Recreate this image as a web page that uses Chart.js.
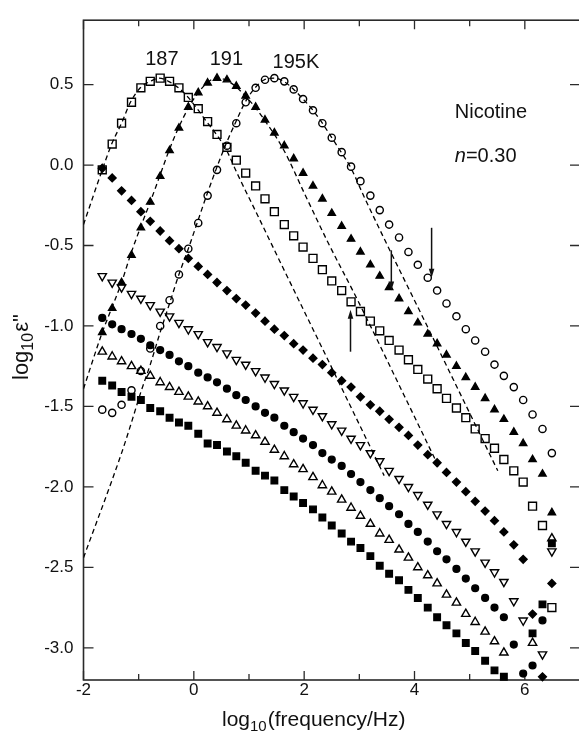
<!DOCTYPE html>
<html lang="en">
<head>
    <meta charset="UTF-8">
    <title>Nicotine dielectric loss</title>
    <script src="https://cdn.jsdelivr.net/npm/chart.js"></script>
    <style>
        html, body {
            margin: 0;
            padding: 0;
            background: #fff;
            overflow: hidden;
        }

        #wrap {
            width: 587px;
            height: 733px;
        }
    </style>
</head>
<body>
    <div id="wrap"><canvas id="lossChart" width="587" height="733"></canvas></div>

    <script>
        // measured frequencies, log10(f/Hz)
        const logFreq = [-1.66, -1.48, -1.31, -1.13, -0.96, -0.79, -0.61, -0.44, -0.27, -0.10,
            0.08, 0.25, 0.42, 0.60, 0.77, 0.94, 1.12, 1.29, 1.46, 1.64,
            1.81, 1.98, 2.16, 2.33, 2.50, 2.68, 2.85, 3.02, 3.20, 3.37,
            3.54, 3.72, 3.89, 4.06, 4.24, 4.41, 4.58, 4.76, 4.93, 5.10,
            5.28, 5.45, 5.62, 5.80, 5.97, 6.14, 6.32, 6.49];

        // log10 eps'' for each temperature (null = not measured / off scale)
        const loss187 = [-0.03, 0.13, 0.26, 0.39, 0.48, 0.52, 0.54, 0.52, 0.48, 0.42,
            0.35, 0.27, 0.19, 0.11, 0.03, -0.05, -0.13, -0.21, -0.29, -0.37,
            -0.44, -0.51, -0.58, -0.65, -0.72, -0.78, -0.85, -0.91, -0.97, -1.03,
            -1.09, -1.15, -1.21, -1.27, -1.33, -1.39, -1.45, -1.51, -1.57, -1.64,
            -1.70, -1.76, -1.83, -1.90, -1.97, -2.12, -2.24, -2.75];
        const loss191 = [-1.04, -0.89, -0.73, -0.56, -0.39, -0.23, -0.07, 0.09, 0.23, 0.36,
            0.45, 0.51, 0.54, 0.53, 0.49, 0.43, 0.36, 0.28, 0.20, 0.12,
            0.04, -0.05, -0.13, -0.21, -0.30, -0.38, -0.46, -0.54, -0.62, -0.69,
            -0.76, -0.83, -0.91, -0.98, -1.05, -1.11, -1.18, -1.25, -1.32, -1.38,
            -1.45, -1.52, -1.58, -1.66, -1.73, -1.83, -1.92, -2.16];
        const loss195 = [-1.52, -1.54, -1.49, -1.40, -1.28, -1.14, -1.00, -0.84, -0.68, -0.52,
            -0.36, -0.19, -0.03, 0.12, 0.26, 0.39, 0.48, 0.53, 0.54, 0.52,
            0.47, 0.41, 0.34, 0.26, 0.17, 0.08, -0.01, -0.10, -0.19, -0.28,
            -0.37, -0.45, -0.54, -0.62, -0.70, -0.78, -0.86, -0.94, -1.02, -1.09,
            -1.16, -1.24, -1.31, -1.38, -1.46, -1.55, -1.64, -1.79];
        const lossDiamond = [-0.02, -0.08, -0.16, -0.22, -0.29, -0.35, -0.41, -0.47, -0.52, -0.58,
            -0.63, -0.68, -0.73, -0.78, -0.83, -0.87, -0.92, -0.97, -1.02, -1.06,
            -1.11, -1.15, -1.20, -1.24, -1.29, -1.34, -1.38, -1.44, -1.49, -1.53,
            -1.58, -1.63, -1.68, -1.74, -1.80, -1.85, -1.91, -1.97, -2.03, -2.09,
            -2.15, -2.21, -2.28, -2.36, -2.45, -2.79, -3.18, -2.60];
        const lossTriDown = [-0.69, -0.73, -0.76, -0.80, -0.83, -0.87, -0.91, -0.94, -0.98, -1.02,
            -1.05, -1.10, -1.13, -1.17, -1.21, -1.24, -1.28, -1.32, -1.36, -1.40,
            -1.44, -1.48, -1.52, -1.56, -1.61, -1.65, -1.70, -1.74, -1.79, -1.84,
            -1.90, -1.95, -2.00, -2.05, -2.11, -2.17, -2.23, -2.28, -2.34, -2.40,
            -2.47, -2.53, -2.59, -2.71, -2.83, null, -3.04, -2.40];
        const lossDot = [-0.95, -0.99, -1.02, -1.05, -1.08, -1.12, -1.15, -1.18, -1.22, -1.25,
            -1.29, -1.32, -1.35, -1.39, -1.43, -1.46, -1.50, -1.54, -1.57, -1.62,
            -1.66, -1.70, -1.74, -1.79, -1.83, -1.87, -1.92, -1.97, -2.02, -2.07,
            -2.12, -2.17, -2.23, -2.28, -2.34, -2.40, -2.45, -2.51, -2.57, -2.63,
            -2.69, -2.75, -2.81, -2.98, -3.16, -3.11, -2.83, null];
        const lossTriUp = [-1.16, -1.19, -1.22, -1.25, -1.28, -1.31, -1.35, -1.38, -1.41, -1.44,
            -1.47, -1.50, -1.54, -1.58, -1.62, -1.65, -1.68, -1.72, -1.77, -1.81,
            -1.86, -1.89, -1.94, -1.99, -2.03, -2.08, -2.13, -2.18, -2.23, -2.29,
            -2.33, -2.39, -2.44, -2.50, -2.55, -2.60, -2.67, -2.72, -2.79, -2.84,
            -2.90, -2.96, -3.03, null, null, -2.97, null, -2.32];
        const lossSquare = [-1.34, -1.37, -1.41, -1.44, -1.46, -1.51, -1.53, -1.57, -1.60, -1.62,
            -1.67, -1.73, -1.74, -1.78, -1.81, -1.85, -1.90, -1.93, -1.96, -2.02,
            -2.06, -2.10, -2.14, -2.19, -2.24, -2.29, -2.34, -2.38, -2.43, -2.49,
            -2.54, -2.58, -2.64, -2.69, -2.75, -2.81, -2.86, -2.91, -2.97, -3.02,
            -3.08, -3.14, -3.18, null, null, -2.91, -2.73, -2.35];

        // fitted relaxation curves (dashed)
        const fit187X = [-2.00, -1.66, -1.49, -1.31, -1.15, -0.97, -0.79, -0.63, -0.46, -0.28,
            -0.10, 0.06, 0.23, 0.41, 0.58, 0.81, 1.11, 1.59, 2.43, 3.45];
        const fit187Y = [-0.37, -0.03, 0.13, 0.26, 0.39, 0.48, 0.52, 0.54, 0.52, 0.48,
            0.42, 0.35, 0.27, 0.19, 0.10, -0.07, -0.28, -0.62, -1.21, -1.93];
        const fit191X = [-2.00, -1.66, -1.49, -1.31, -1.15, -0.97, -0.79, -0.62, -0.45, -0.28,
            -0.09, 0.08, 0.24, 0.40, 0.57, 0.75, 0.93, 1.11, 1.28, 1.62,
            2.01, 2.43, 2.97, 3.81, 4.46];
        const fit191Y = [-1.39, -1.04, -0.89, -0.73, -0.56, -0.39, -0.23, -0.07, 0.09, 0.23,
            0.36, 0.45, 0.51, 0.54, 0.53, 0.49, 0.43, 0.36, 0.28, 0.10,
            -0.18, -0.48, -0.84, -1.43, -1.89];
        const fit195X = [-2.00, -1.31, -1.14, -0.96, -0.79, -0.62, -0.44, -0.27, -0.10, 0.06,
            0.23, 0.40, 0.57, 0.75, 0.93, 1.11, 1.28, 1.46, 1.63, 1.81,
            1.98, 2.16, 2.33, 2.50, 2.67, 2.85, 3.09, 4.40, 5.51];
        const fit195Y = [-2.44, -1.79, -1.61, -1.41, -1.24, -1.05, -0.86, -0.68, -0.52, -0.36,
            -0.19, -0.03, 0.12, 0.26, 0.39, 0.48, 0.53, 0.54, 0.52, 0.47,
            0.41, 0.34, 0.26, 0.17, 0.08, -0.02, -0.20, -1.12, -1.90];

        // arrows marking where the data leave the fits
        const arrowX = [4.31, 3.58, 2.84];
        const arrowFrom = [-0.39, -0.53, -1.16];
        const arrowTo = [-0.70, -0.78, -0.90];

        // axes
        const xMajorTicks = [-2, 0, 2, 4, 6];
        const xMinorTicks = [-1, 1, 3, 5, 7];
        const yTicks = [0.5, 0.0, -0.5, -1.0, -1.5, -2.0, -2.5, -3.0];
        const yTickLabels = ['0.5', '0.0', '-0.5', '-1.0', '-1.5', '-2.0', '-2.5', '-3.0'];
        const peakLabels = ['187', '191', '195K'];

        const fontFamily = "'Liberation Sans', Arial, Helvetica, sans-serif";
        const ink = '#111';
        const frameColor = '#2a2a2a';

        function pointSet(values, style, filled, radius, rotation) {
            const pts = [];
            logFreq.forEach((f, i) => {
                if (values[i] !== null) pts.push({ x: f, y: values[i] });
            });
            return {
                data: pts,
                pointStyle: style,
                pointRadius: radius,
                pointRotation: rotation || 0,
                backgroundColor: filled ? '#000' : 'rgba(0,0,0,0)',
                borderColor: '#000',
                borderWidth: 1.4,
                showLine: false,
                clip: false
            };
        }

        function fitLine(xs, ys) {
            return {
                data: xs.map((x, i) => ({ x: x, y: ys[i] })),
                showLine: true,
                pointRadius: 0,
                borderColor: '#000',
                borderWidth: 1.3,
                borderDash: [5, 3.5],
                cubicInterpolationMode: 'monotone',
                fill: false
            };
        }

        // text with "10" as subscript after "log"
        function drawLogLabel(ctx, rest, size) {
            ctx.font = size + 'px ' + fontFamily;
            ctx.fillText('log', 0, 0);
            let w = ctx.measureText('log').width;
            ctx.font = Math.round(size * 0.72) + 'px ' + fontFamily;
            ctx.fillText('10', w, 5);
            w += ctx.measureText('10').width;
            ctx.font = size + 'px ' + fontFamily;
            ctx.fillText(rest, w + 1, 0);
        }

        const framePlugin = {
            id: 'frame',
            beforeDatasetsDraw(chart) {
                const { ctx, chartArea: a, scales: { x, y } } = chart;
                ctx.save();
                ctx.strokeStyle = frameColor;
                ctx.lineWidth = 1.6;
                ctx.strokeRect(a.left, a.top, a.right - a.left, a.bottom - a.top);

                // inward ticks on all four sides
                ctx.lineWidth = 1.3;
                ctx.beginPath();
                xMajorTicks.concat(xMinorTicks).forEach(v => {
                    const px = x.getPixelForValue(v);
                    const len = xMajorTicks.includes(v) ? 9 : 6;
                    ctx.moveTo(px, a.bottom);
                    ctx.lineTo(px, a.bottom - len);
                    ctx.moveTo(px, a.top);
                    ctx.lineTo(px, a.top + len);
                });
                yTicks.forEach(v => {
                    const py = y.getPixelForValue(v);
                    ctx.moveTo(a.left, py);
                    ctx.lineTo(a.left + 10, py);
                    ctx.moveTo(a.right, py);
                    ctx.lineTo(a.right - 10, py);
                });
                ctx.stroke();
                ctx.restore();
            },
            afterDraw(chart) {
                const { ctx, scales: { x, y } } = chart;
                ctx.save();
                ctx.fillStyle = ink;
                ctx.strokeStyle = ink;

                // arrows
                ctx.lineWidth = 1.5;
                arrowX.forEach((xv, i) => {
                    const px = x.getPixelForValue(xv);
                    const y0 = y.getPixelForValue(arrowFrom[i]);
                    const y1 = y.getPixelForValue(arrowTo[i]);
                    const dir = Math.sign(y1 - y0);
                    ctx.beginPath();
                    ctx.moveTo(px, y0);
                    ctx.lineTo(px, y1 - dir * 6);
                    ctx.stroke();
                    ctx.beginPath();
                    ctx.moveTo(px, y1);
                    ctx.lineTo(px - 2.8, y1 - dir * 9);
                    ctx.lineTo(px + 2.8, y1 - dir * 9);
                    ctx.closePath();
                    ctx.fill();
                });

                // temperature labels above the peaks
                ctx.font = '20px ' + fontFamily;
                ctx.textAlign = 'center';
                ctx.textBaseline = 'alphabetic';
                const peakPos = [[-0.58, 0.62], [0.59, 0.62], [1.85, 0.60]];
                peakLabels.forEach((t, i) => {
                    ctx.fillText(t, x.getPixelForValue(peakPos[i][0]), y.getPixelForValue(peakPos[i][1]));
                });

                // sample name and exponent
                ctx.textAlign = 'left';
                const nx = x.getPixelForValue(4.73);
                ctx.fillText('Nicotine', nx, y.getPixelForValue(0.29));
                const ny = y.getPixelForValue(0.02);
                ctx.font = 'italic 20px ' + fontFamily;
                ctx.fillText('n', nx, ny);
                const nw = ctx.measureText('n').width;
                ctx.font = '20px ' + fontFamily;
                ctx.fillText('=0.30', nx + nw, ny);

                // axis titles
                ctx.save();
                ctx.translate(222, 726);
                drawLogLabel(ctx, '(frequency/Hz)', 21);
                ctx.restore();

                ctx.save();
                ctx.translate(28, 380);
                ctx.rotate(-Math.PI / 2);
                drawLogLabel(ctx, 'ε"', 22);
                ctx.restore();

                ctx.restore();
            }
        };

        Chart.defaults.font.family = fontFamily;
        Chart.defaults.color = ink;

        const chart = new Chart(document.getElementById('lossChart'), {
            type: 'scatter',
            data: {
                datasets: [
                    fitLine(fit187X, fit187Y),
                    fitLine(fit191X, fit191Y),
                    fitLine(fit195X, fit195Y),
                    pointSet(loss187, 'rect', false, 5.6),
                    pointSet(loss191, 'triangle', true, 4.2),
                    pointSet(loss195, 'circle', false, 3.6),
                    pointSet(lossDiamond, 'rectRot', true, 3.9),
                    pointSet(lossTriDown, 'triangle', false, 4.8, 180),
                    pointSet(lossDot, 'circle', true, 3.4),
                    pointSet(lossTriUp, 'triangle', false, 4.8),
                    pointSet(lossSquare, 'rect', true, 4.6)
                ]
            },
            options: {
                responsive: false,
                animation: false,
                layout: { padding: { top: 12, right: 2, bottom: 0, left: 0 } },
                plugins: {
                    legend: { display: false },
                    tooltip: { enabled: false }
                },
                scales: {
                    x: {
                        type: 'linear',
                        min: -2,
                        max: 7,
                        grid: { display: false, drawTicks: false },
                        border: { display: false },
                        afterBuildTicks: s => { s.ticks = xMajorTicks.map(v => ({ value: v })); },
                        afterFit: s => { s.height = 53; },
                        ticks: {
                            padding: 0,
                            maxRotation: 0,
                            autoSkip: false,
                            font: { size: 17 },
                            callback: v => String(v)
                        }
                    },
                    y: {
                        type: 'linear',
                        min: -3.2,
                        max: 0.9,
                        grid: { display: false, drawTicks: false },
                        border: { display: false },
                        afterBuildTicks: s => { s.ticks = yTicks.map(v => ({ value: v })); },
                        afterFit: s => { s.width = 83.5; },
                        ticks: {
                            padding: 10,
                            autoSkip: false,
                            font: { size: 17 },
                            callback: (v, i) => yTickLabels[i]
                        }
                    }
                }
            },
            plugins: [framePlugin]
        });
    </script>
</body>
</html>
